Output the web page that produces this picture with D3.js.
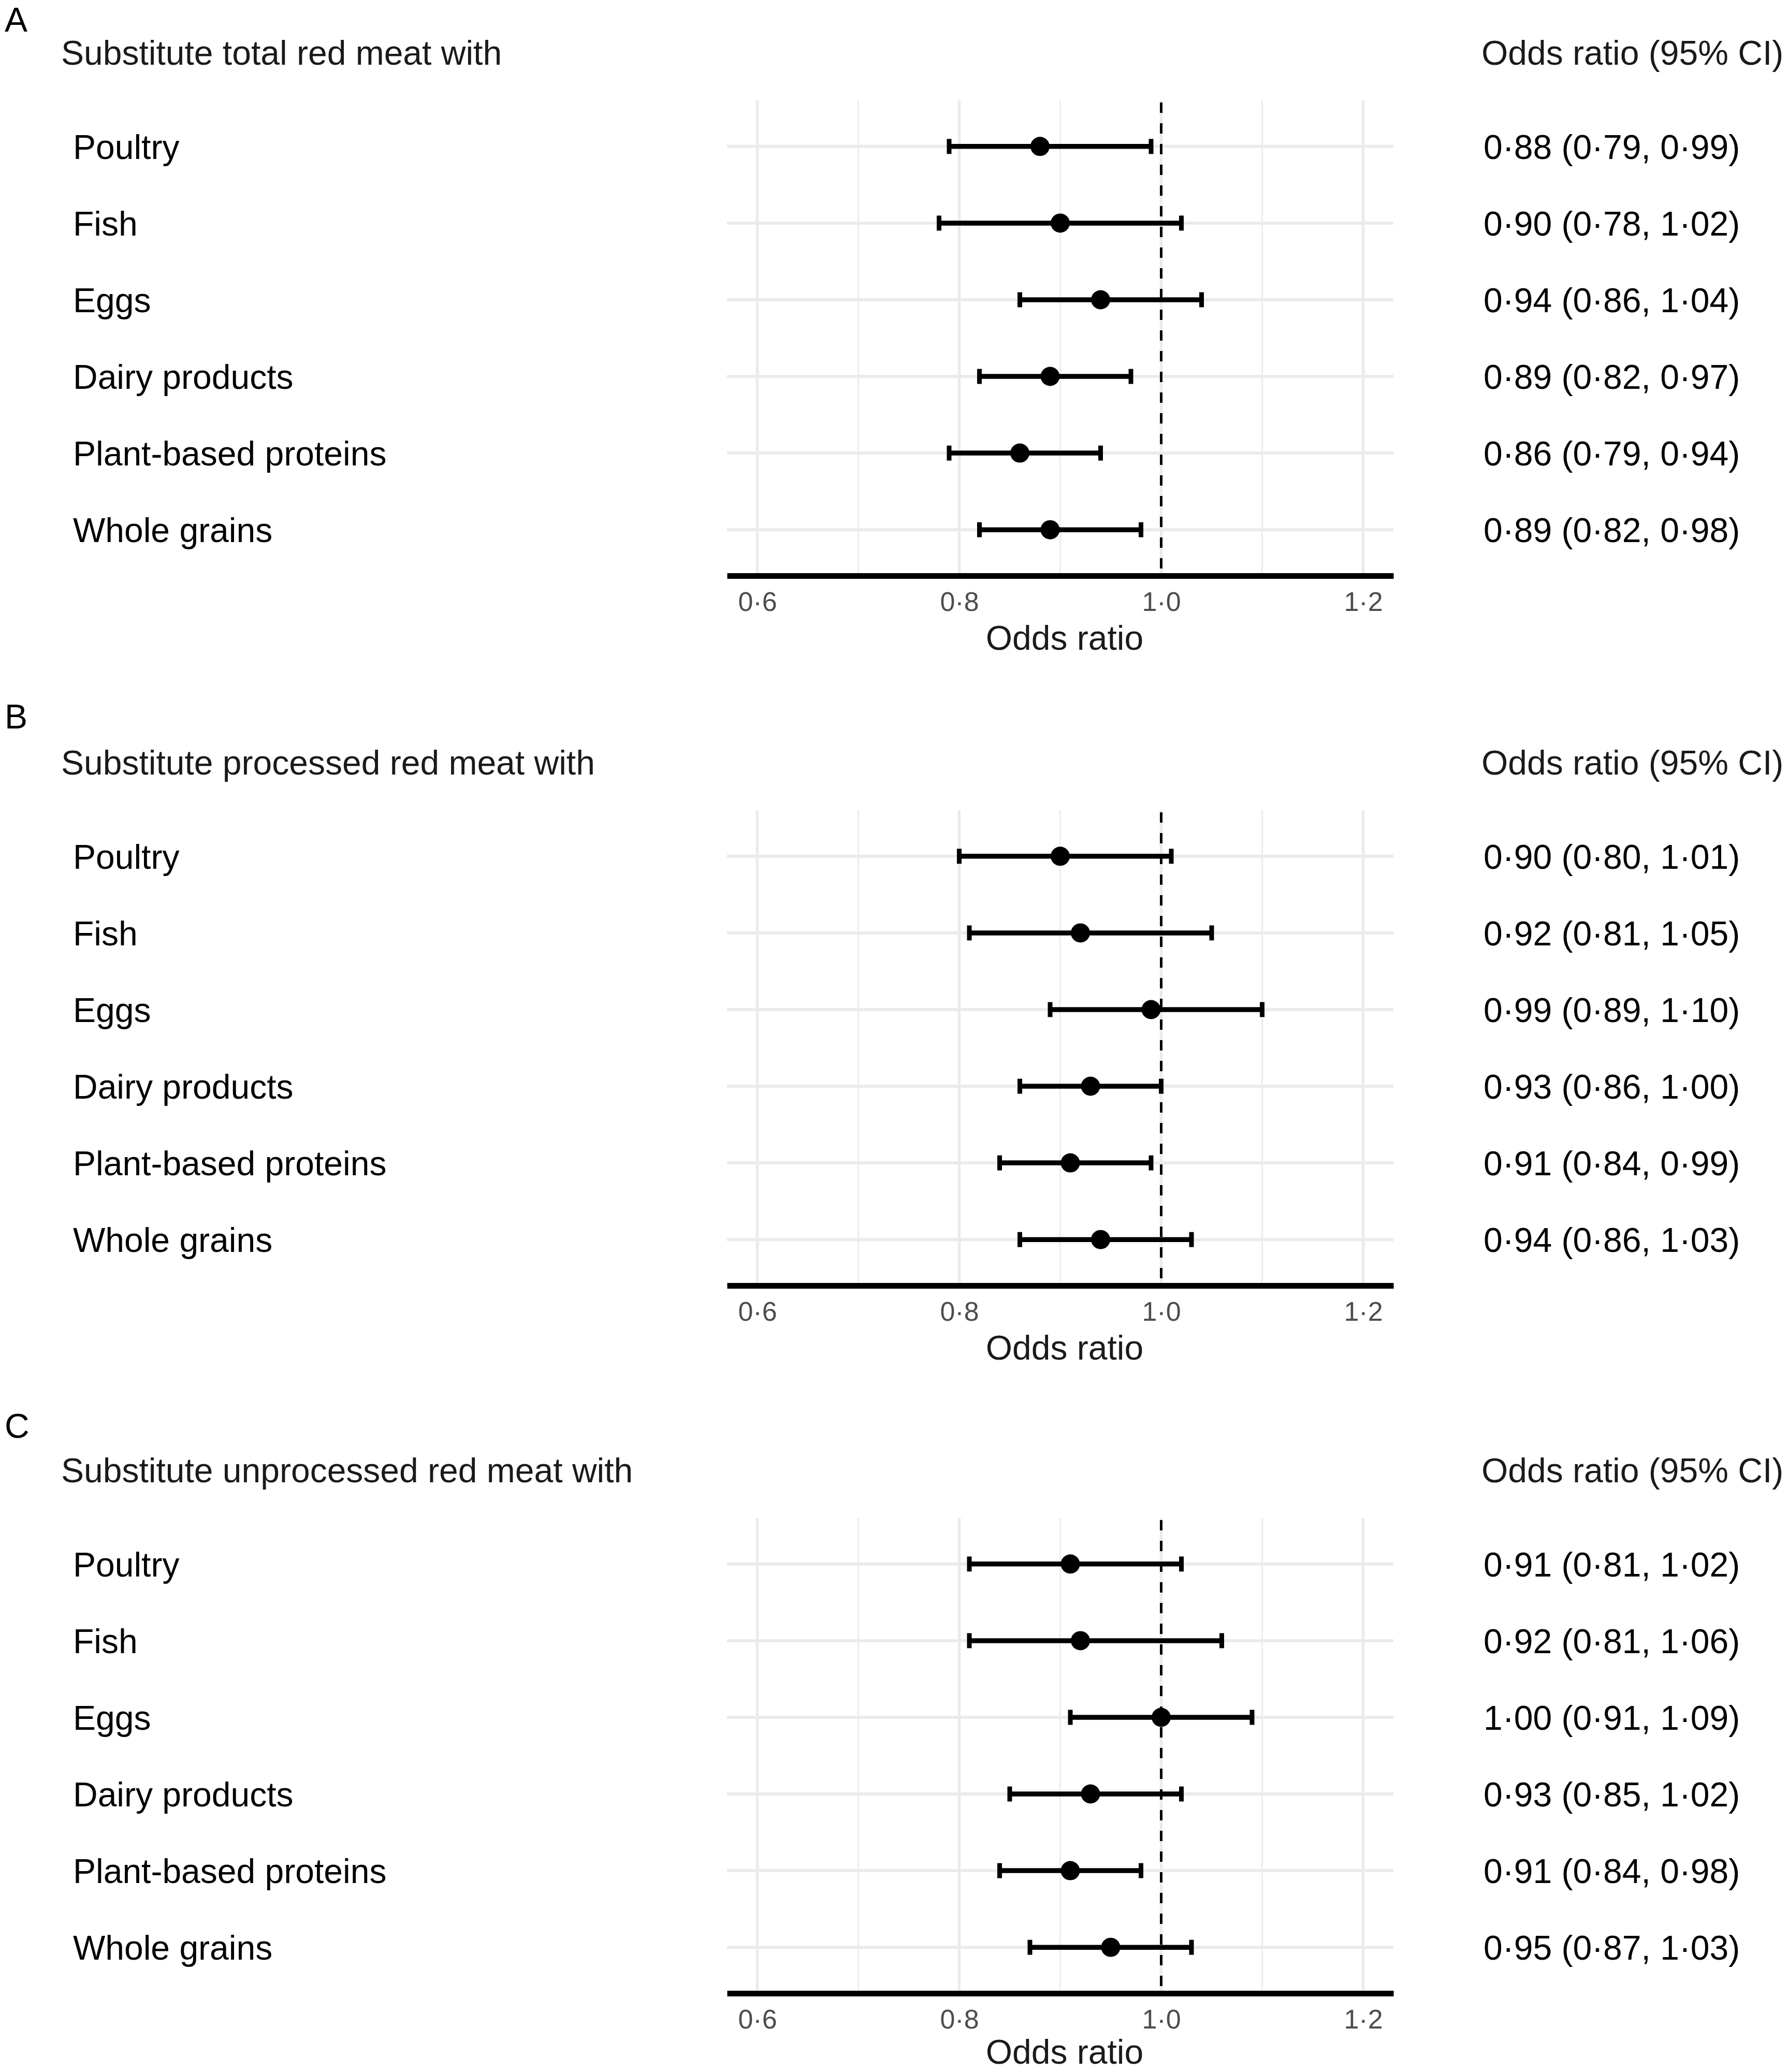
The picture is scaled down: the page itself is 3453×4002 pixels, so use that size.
<!DOCTYPE html>
<html>
<head>
<meta charset="utf-8">
<script src="https://cdn.jsdelivr.net/npm/d3@7"></script>
<style>
  body { margin: 0; background: #fff; }
  text { font-family: "Liberation Sans", Arial, Helvetica, sans-serif; }
</style>
</head>
<body>
<div id="chart"></div>
<script>
// data
const categories = ["Poultry", "Fish", "Eggs", "Dairy products", "Plant-based proteins", "Whole grains"];
const panelLetters = ["A", "B", "C"];
const panelTitles = [
  "Substitute total red meat with",
  "Substitute processed red meat with",
  "Substitute unprocessed red meat with"
];

const estTotal  = [0.88, 0.90, 0.94, 0.89, 0.86, 0.89];
const lowTotal  = [0.79, 0.78, 0.86, 0.82, 0.79, 0.82];
const highTotal = [0.99, 1.02, 1.04, 0.97, 0.94, 0.98];

const estProc  = [0.90, 0.92, 0.99, 0.93, 0.91, 0.94];
const lowProc  = [0.80, 0.81, 0.89, 0.86, 0.84, 0.86];
const highProc = [1.01, 1.05, 1.10, 1.00, 0.99, 1.03];

const estUnproc  = [0.91, 0.92, 1.00, 0.93, 0.91, 0.95];
const lowUnproc  = [0.81, 0.81, 0.91, 0.85, 0.84, 0.87];
const highUnproc = [1.02, 1.06, 1.09, 1.02, 0.98, 1.03];

const majorTicks = [0.6, 0.8, 1.0, 1.2];
const minorTicks = [0.7, 0.9, 1.1];
const refValue = 1.0;

// layout
const fullWidth = 3453;
const fullHeight = 4002;
const panelOffsets = [0, 1371, 2738];
const letterY = [61, 1407, 2777];
const fontSize = 66;
const tickFont = 52;

const panels = [
  { est: estTotal, low: lowTotal, high: highTotal },
  { est: estProc, low: lowProc, high: highProc },
  { est: estUnproc, low: lowUnproc, high: highUnproc }
];

const fmt = v => d3.format(".2f")(v).replace(".", "\u00b7");

const x = d3.scaleLinear()
  .domain([0.57, 1.23])
  .range([1404, 2691]);

const svg = d3.select('#chart')
  .append('svg')
  .attr('width', fullWidth)
  .attr('height', fullHeight);

svg.append('rect')
  .attr('width', fullWidth)
  .attr('height', fullHeight)
  .attr('fill', '#fff');

panels.forEach((p, i) => {
  const off = panelOffsets[i];
  const top = off + 194;
  const bottom = off + 1112;

  const y = d3.scalePoint()
    .domain(categories)
    .range([top, bottom])
    .padding(0.6);

  const g = svg.append('g');

  // panel letter + titles
  g.append('text')
    .attr('x', 9).attr('y', letterY[i])
    .attr('font-size', fontSize).attr('fill', '#000')
    .text(panelLetters[i]);

  g.append('text')
    .attr('x', 118).attr('y', off + 125)
    .attr('font-size', fontSize).attr('fill', '#1a1a1a')
    .text(panelTitles[i]);

  g.append('text')
    .attr('x', 2861).attr('y', off + 125)
    .attr('font-size', fontSize).attr('fill', '#1a1a1a')
    .text("Odds ratio (95% CI)");

  // grid
  g.selectAll('.minor')
    .data(minorTicks)
    .join('line')
    .attr('x1', d => x(d)).attr('x2', d => x(d))
    .attr('y1', top).attr('y2', bottom)
    .attr('stroke', '#ebebeb').attr('stroke-width', 2.75);

  g.selectAll('.major')
    .data(majorTicks)
    .join('line')
    .attr('x1', d => x(d)).attr('x2', d => x(d))
    .attr('y1', top).attr('y2', bottom)
    .attr('stroke', '#ebebeb').attr('stroke-width', 5.5);

  g.selectAll('.hgrid')
    .data(categories)
    .join('line')
    .attr('x1', x.range()[0]).attr('x2', x.range()[1])
    .attr('y1', d => y(d)).attr('y2', d => y(d))
    .attr('stroke', '#ebebeb').attr('stroke-width', 6);

  // reference line
  g.append('line')
    .attr('x1', x(refValue)).attr('x2', x(refValue))
    .attr('y1', top).attr('y2', bottom)
    .attr('stroke', '#000').attr('stroke-width', 5)
    .attr('stroke-dasharray', '20,20')
    .attr('stroke-dashoffset', 36);

  // row labels
  g.selectAll('.lab')
    .data(categories)
    .join('text')
    .attr('x', 141).attr('y', d => y(d)).attr('dy', '0.36em')
    .attr('font-size', fontSize).attr('fill', '#000')
    .text(d => d);

  // CI text
  g.selectAll('.ci')
    .data(categories)
    .join('text')
    .attr('x', 2865).attr('y', d => y(d)).attr('dy', '0.36em')
    .attr('font-size', fontSize).attr('fill', '#000')
    .text((d, k) => `${fmt(p.est[k])} (${fmt(p.low[k])}, ${fmt(p.high[k])})`);

  // error bars
  const rows = categories.map((c, k) => ({ c, est: p.est[k], low: p.low[k], high: p.high[k] }));
  const eb = g.selectAll('.eb').data(rows).join('g');
  eb.append('line')
    .attr('x1', d => x(d.low)).attr('x2', d => x(d.high))
    .attr('y1', d => y(d.c)).attr('y2', d => y(d.c))
    .attr('stroke', '#000').attr('stroke-width', 9.5);
  eb.append('line')
    .attr('x1', d => x(d.low)).attr('x2', d => x(d.low))
    .attr('y1', d => y(d.c) - 14.5).attr('y2', d => y(d.c) + 14.5)
    .attr('stroke', '#000').attr('stroke-width', 9);
  eb.append('line')
    .attr('x1', d => x(d.high)).attr('x2', d => x(d.high))
    .attr('y1', d => y(d.c) - 14.5).attr('y2', d => y(d.c) + 14.5)
    .attr('stroke', '#000').attr('stroke-width', 9);
  eb.append('circle')
    .attr('cx', d => x(d.est)).attr('cy', d => y(d.c))
    .attr('r', 18.5).attr('fill', '#000');

  // x axis
  const xAxis = d3.axisBottom(x)
    .tickValues(majorTicks)
    .tickSize(0)
    .tickSizeOuter(0)
    .tickPadding(31)
    .tickFormat(d => d3.format(".1f")(d).replace(".", "\u00b7"));

  const ax = g.append('g')
    .attr('transform', `translate(0, ${bottom})`)
    .call(xAxis);
  ax.select('.domain').attr('stroke', '#000').attr('stroke-width', 11);
  ax.selectAll('text')
    .attr('font-size', tickFont)
    .attr('fill', '#4d4d4d')
    .attr('font-family', '"Liberation Sans", Arial, sans-serif');

  g.append('text')
    .attr('x', 2056).attr('y', Math.min(bottom + 143, fullHeight - 16))
    .attr('text-anchor', 'middle')
    .attr('font-size', fontSize).attr('fill', '#1a1a1a')
    .text("Odds ratio");
});
</script>
</body>
</html>
